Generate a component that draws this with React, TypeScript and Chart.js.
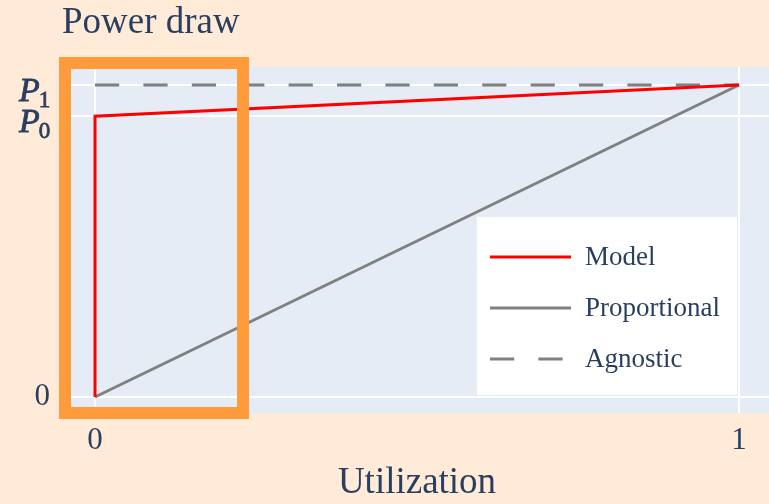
import React, { useEffect, useRef } from "react";
import { Chart, registerables } from "chart.js";
Chart.register(...registerables);

// ---- data ----
const seriesNames = ["Model", "Proportional", "Agnostic"];
const modelX = [0, 0, 1];
const modelY = [0, 0.9, 1];
const proportionalX = [0, 1];
const proportionalY = [0, 1];
const agnosticX = [0, 1];
const agnosticY = [1, 1];
const xTickValues = [0, 1];
const xTickLabels = ["0", "1"];
const yTickValues = [0, 0.9, 1];
const yTickMain = ["0", "P", "P"];
const yTickSub = ["", "0", "1"];
const highlightX = [-0.0466, 0.2298];
const highlightY = [-0.0513, 1.0705];
const titleText = "Power draw";
const xTitleText = "Utilization";

// ---- style ----
const FONT = "'Liberation Serif', 'Times New Roman', serif";
const TEXT = "#2a3f5f";
const PAPER = "rgb(255,235,216)";
const PLOT = "#E5ECF6";
const ORANGE = "rgb(255,155,58)";
const colors = ["#FF0000", "#808080", "#808080"];
const dashes: number[][] = [[], [], [24.2, 24.2]];

const toPts = (xs: number[], ys: number[]) => xs.map((x, i) => ({ x, y: ys[i] }));

const decor = {
  id: "decor",
  beforeDraw(chart: any) {
    const { ctx, chartArea: a, width, height } = chart;
    ctx.save();
    ctx.fillStyle = PAPER;
    ctx.fillRect(0, 0, width, height);
    ctx.fillStyle = PLOT;
    ctx.fillRect(a.left, a.top, a.right - a.left, a.bottom - a.top);
    ctx.restore();
  },
  afterDraw(chart: any) {
    const { ctx } = chart;
    const xs = chart.scales.x;
    const ys = chart.scales.y;
    ctx.save();
    // title
    ctx.fillStyle = TEXT;
    ctx.font = `37px ${FONT}`;
    ctx.textAlign = "left";
    ctx.textBaseline = "alphabetic";
    ctx.fillText(titleText, 62, 33);

    // math tick labels
    ctx.strokeStyle = TEXT;
    ctx.lineWidth = 0.8;
    yTickValues.forEach((v, i) => {
      if (!yTickSub[i]) return;
      const py = ys.getPixelForValue(v);
      ctx.font = `italic 34px ${FONT}`;
      ctx.textBaseline = "alphabetic";
      ctx.textAlign = "left";
      const x0 = 19;
      ctx.fillText(yTickMain[i], x0, py + 15.5);
      ctx.strokeText(yTickMain[i], x0, py + 15.5);
      const w = ctx.measureText(yTickMain[i]).width;
      ctx.font = `23px ${FONT}`;
      ctx.fillText(yTickSub[i], x0 + w - 1, py + 21.5);
      ctx.strokeText(yTickSub[i], x0 + w - 1, py + 21.5);
    });

    // legend
    const lx = 477, ly = 217, lw = 260, lh = 178;
    ctx.fillStyle = "#FFFFFF";
    ctx.fillRect(lx, ly, lw, lh);
    const ds = chart.data.datasets;
    ds.forEach((d: any, i: number) => {
      const y = 257 + i * 51;
      ctx.strokeStyle = d.borderColor;
      ctx.lineWidth = d.borderWidth;
      ctx.setLineDash(d.borderDash || []);
      ctx.beginPath();
      ctx.moveTo(490, y);
      ctx.lineTo(571, y);
      ctx.stroke();
      ctx.setLineDash([]);
      ctx.fillStyle = TEXT;
      ctx.font = `27px ${FONT}`;
      ctx.textAlign = "left";
      ctx.textBaseline = "middle";
      ctx.fillText(d.label, 585, y + 1);
    });

    // highlight box
    const hx0 = xs.getPixelForValue(highlightX[0]);
    const hx1 = xs.getPixelForValue(highlightX[1]);
    const hy0 = ys.getPixelForValue(highlightY[0]);
    const hy1 = ys.getPixelForValue(highlightY[1]);
    ctx.strokeStyle = ORANGE;
    ctx.lineWidth = 12;
    ctx.lineJoin = "miter";
    ctx.strokeRect(hx0, hy1, hx1 - hx0, hy0 - hy1);
    ctx.restore();
  },
};

export default function App() {
  const ref = useRef<HTMLCanvasElement | null>(null);
  useEffect(() => {
    if (!ref.current) return;
    const series = [toPts(modelX, modelY), toPts(proportionalX, proportionalY), toPts(agnosticX, agnosticY)];
    const chart = new Chart(ref.current, {
      type: "line",
      data: {
        datasets: series.map((pts, i) => ({
          label: seriesNames[i],
          data: pts,
          borderColor: colors[i],
          backgroundColor: colors[i],
          borderWidth: 3,
          borderDash: dashes[i],
          pointRadius: 0,
          fill: false,
          tension: 0,
        })),
      },
      options: {
        animation: false,
        responsive: true,
        maintainAspectRatio: false,
        layout: { padding: { top: 67, left: 0, right: 0, bottom: 0 } },
        plugins: { legend: { display: false }, tooltip: { enabled: false }, title: { display: false } },
        scales: {
          x: {
            type: "linear",
            min: -0.0466,
            max: 1.0466,
            afterBuildTicks: (s: any) => {
              s.ticks = xTickValues.map((value) => ({ value }));
            },
            afterFit: (s: any) => {
              s.height = 91;
            },
            ticks: {
              autoSkip: false,
              maxRotation: 0,
              padding: 9,
              color: TEXT,
              font: { family: FONT, size: 31 },
              callback: (_v: any, i: number) => xTickLabels[i],
            },
            grid: { color: "#FFFFFF", lineWidth: 2, drawTicks: false },
            border: { display: false },
            title: {
              display: true,
              text: xTitleText,
              color: TEXT,
              font: { family: FONT, size: 37, lineHeight: 1.1 },
              padding: { top: 0, bottom: 0 },
            },
          },
          y: {
            type: "linear",
            min: -0.0513,
            max: 1.0577,
            afterBuildTicks: (s: any) => {
              s.ticks = yTickValues.map((value) => ({ value }));
            },
            afterFit: (s: any) => {
              s.width = 65;
            },
            ticks: {
              autoSkip: false,
              padding: 15,
              color: TEXT,
              font: { family: FONT, size: 31 },
              callback: (_v: any, i: number) => (yTickSub[i] ? "" : yTickMain[i]),
            },
            grid: { color: "#FFFFFF", lineWidth: 2, drawTicks: false },
            border: { display: false },
          },
        },
      },
      plugins: [decor],
    } as any);
    return () => chart.destroy();
  }, []);
  return (
    <div style={{ position: "fixed", left: 0, top: 0, width: 769, height: 504 }}>
      <canvas ref={ref} />
    </div>
  );
}
